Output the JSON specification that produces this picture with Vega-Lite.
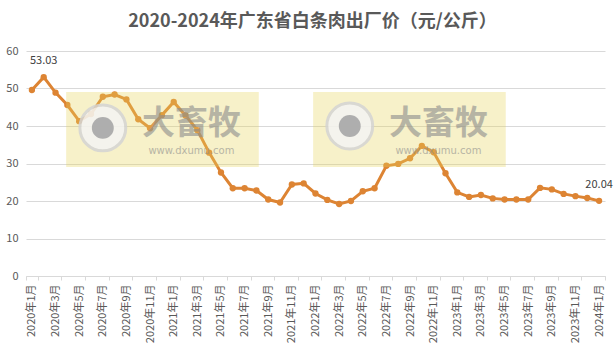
{
  "$schema": "https://vega.github.io/schema/vega-lite/v6.json",
  "width": 579,
  "height": 225,
  "autosize": "none",
  "padding": {"left": 26, "top": 51, "right": 11, "bottom": 75},
  "background": "white",
  "title": {
    "text": "2020-2024年广东省白条肉出厂价（元/公斤）",
    "font": "Noto Sans CJK SC",
    "fontSize": 18,
    "fontWeight": "bold",
    "color": "#595959",
    "anchor": "middle",
    "dx": -3,
    "offset": 14
  },
  "config": {
    "view": {"stroke": null},
    "font": "Noto Sans CJK SC"
  },
  "resolve": {"scale": {"x": "independent"}, "axis": {"x": "independent", "y": "independent"}},
  "layer": [
    {
      "data": {"name": "main", "values": [
        {"month": "2020年1月", "price": 49.6},
        {"month": "2020年2月", "price": 53.03, "label": "53.03"},
        {"month": "2020年3月", "price": 48.9},
        {"month": "2020年4月", "price": 45.6},
        {"month": "2020年5月", "price": 41.3},
        {"month": "2020年6月", "price": 43.2},
        {"month": "2020年7月", "price": 47.8},
        {"month": "2020年8月", "price": 48.4},
        {"month": "2020年9月", "price": 47.1},
        {"month": "2020年10月", "price": 41.8},
        {"month": "2020年11月", "price": 39.4},
        {"month": "2020年12月", "price": 42.9},
        {"month": "2021年1月", "price": 46.4},
        {"month": "2021年2月", "price": 42.8},
        {"month": "2021年3月", "price": 38.9},
        {"month": "2021年4月", "price": 32.9},
        {"month": "2021年5月", "price": 27.6},
        {"month": "2021年6月", "price": 23.4},
        {"month": "2021年7月", "price": 23.4},
        {"month": "2021年8月", "price": 22.8},
        {"month": "2021年9月", "price": 20.4},
        {"month": "2021年10月", "price": 19.6},
        {"month": "2021年11月", "price": 24.4},
        {"month": "2021年12月", "price": 24.7},
        {"month": "2022年1月", "price": 22.0},
        {"month": "2022年2月", "price": 20.3},
        {"month": "2022年3月", "price": 19.2},
        {"month": "2022年4月", "price": 20.0},
        {"month": "2022年5月", "price": 22.6},
        {"month": "2022年6月", "price": 23.4},
        {"month": "2022年7月", "price": 29.4},
        {"month": "2022年8月", "price": 29.9},
        {"month": "2022年9月", "price": 31.4},
        {"month": "2022年10月", "price": 34.7},
        {"month": "2022年11月", "price": 33.0},
        {"month": "2022年12月", "price": 27.4},
        {"month": "2023年1月", "price": 22.3},
        {"month": "2023年2月", "price": 21.1},
        {"month": "2023年3月", "price": 21.6},
        {"month": "2023年4月", "price": 20.7},
        {"month": "2023年5月", "price": 20.4},
        {"month": "2023年6月", "price": 20.4},
        {"month": "2023年7月", "price": 20.4},
        {"month": "2023年8月", "price": 23.5},
        {"month": "2023年9月", "price": 23.1},
        {"month": "2023年10月", "price": 21.9},
        {"month": "2023年11月", "price": 21.3},
        {"month": "2023年12月", "price": 20.8},
        {"month": "2024年1月", "price": 20.04, "label": "20.04"}
      ]},
      "encoding": {
        "x": {
          "field": "month",
          "type": "ordinal",
          "sort": null,
          "bandPosition": 0.5,
          "scale": {"type": "band", "paddingInner": 0, "paddingOuter": 0},
          "axis": {
            "title": null,
            "values": ["2020年1月","2020年3月","2020年5月","2020年7月","2020年9月","2020年11月","2021年1月","2021年3月","2021年5月","2021年7月","2021年9月","2021年11月","2022年1月","2022年3月","2022年5月","2022年7月","2022年9月","2022年11月","2023年1月","2023年3月","2023年5月","2023年7月","2023年9月","2023年11月","2024年1月"],
            "labelAngle": 270,
            "labelFontSize": 11,
            "labelColor": "#595959",
            "labelPadding": 4,
            "tickBand": "extent",
            "tickSize": 4,
            "tickColor": "#d9d9d9",
            "domainColor": "#d9d9d9",
            "grid": false
          }
        },
        "y": {
          "field": "price",
          "type": "quantitative",
          "scale": {"domain": [0, 60], "nice": false},
          "axis": {
            "title": null,
            "values": [0, 10, 20, 30, 40, 50, 60],
            "labelFontSize": 11,
            "labelColor": "#595959",
            "labelPadding": 8,
            "labelOverlap": false,
            "ticks": false,
            "domain": false,
            "gridColor": "#d9d9d9",
            "gridWidth": 1
          }
        }
      },
      "layer": [
        {"mark": {"type": "line", "color": "#DD8433", "strokeWidth": 3}},
        {"mark": {"type": "point", "filled": true, "color": "#DD8433", "size": 40, "opacity": 1}},
        {
          "transform": [{"filter": "isValid(datum.label)"}],
          "mark": {"type": "text", "fontSize": 11, "color": "#404040", "dy": -16},
          "encoding": {"text": {"field": "label"}}
        }
      ]
    },
    {
      "data": {"values": [
        {"x1": 2.9, "x2": 19.2, "y1": 29.1, "y2": 49.1},
        {"x1": 23.8, "x2": 40.1, "y1": 29.1, "y2": 49.1}
      ]},
      "mark": {"type": "rect", "color": "#E6D35A", "opacity": 0.33},
      "encoding": {
        "x": {"field": "x1", "type": "quantitative", "scale": {"domain": [-0.5, 48.5], "nice": false, "zero": false}, "axis": null},
        "x2": {"field": "x2"},
        "y": {"field": "y1", "type": "quantitative", "axis": null},
        "y2": {"field": "y2"}
      }
    },
    {
      "data": {"values": [
        {"cx": 6.0, "cy": 39.5},
        {"cx": 26.9, "cy": 40.0}
      ]},
      "layer": [
        {"mark": {"type": "point", "shape": "circle", "filled": true, "fill": "#f4f4f4", "stroke": "#d4d4d4", "strokeWidth": 3, "size": 2100, "opacity": 0.85}},
        {"mark": {"type": "point", "shape": "circle", "filled": true, "color": "#a6a6a6", "size": 480, "opacity": 0.9}}
      ],
      "encoding": {
        "x": {"field": "cx", "type": "quantitative", "scale": {"domain": [-0.5, 48.5], "nice": false, "zero": false}, "axis": null},
        "y": {"field": "cy", "type": "quantitative", "axis": null}
      }
    },
    {
      "data": {"values": [
        {"tx": 13.5, "ty": 40.6, "t": "大畜牧"},
        {"tx": 34.4, "ty": 40.6, "t": "大畜牧"}
      ]},
      "mark": {"type": "text", "fontSize": 33, "fontWeight": "bold", "color": "#8c8c8c", "opacity": 0.6},
      "encoding": {
        "x": {"field": "tx", "type": "quantitative", "scale": {"domain": [-0.5, 48.5], "nice": false, "zero": false}, "axis": null},
        "y": {"field": "ty", "type": "quantitative", "axis": null},
        "text": {"field": "t"}
      }
    },
    {
      "data": {"values": [
        {"tx": 13.5, "ty": 33.4, "t": "www.dxumu.com"},
        {"tx": 34.4, "ty": 33.4, "t": "www.dxumu.com"}
      ]},
      "mark": {"type": "text", "fontSize": 10, "font": "DejaVu Sans", "color": "#8c8c8c", "opacity": 0.6},
      "encoding": {
        "x": {"field": "tx", "type": "quantitative", "scale": {"domain": [-0.5, 48.5], "nice": false, "zero": false}, "axis": null},
        "y": {"field": "ty", "type": "quantitative", "axis": null},
        "text": {"field": "t"}
      }
    }
  ]
}
